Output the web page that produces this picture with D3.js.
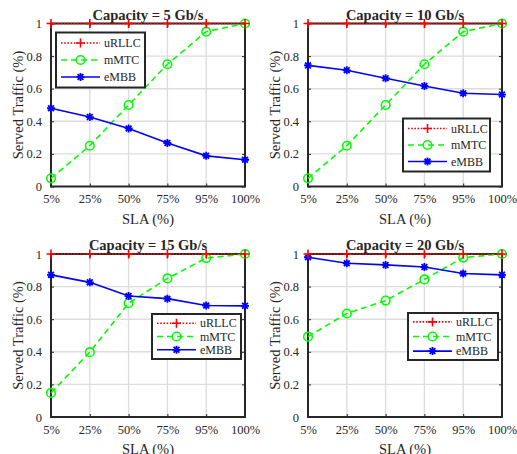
<!DOCTYPE html>
<html>
<head>
<meta charset="utf-8">
<script src="https://cdn.jsdelivr.net/npm/d3@7"></script>
<style>
  body { margin: 0; background: #fff; }
  svg { display: block; }
  text { font-family: "Liberation Serif", "Times New Roman", serif; fill: #262626; }
</style>
</head>
<body>
<div id="chart"></div>
<script>
// categories / ticks
var slaLabels = ["5%", "25%", "50%", "75%", "95%", "100%"];
var yTicks = [0, 0.2, 0.4, 0.6, 0.8, 1];
var capacities = ["5", "10", "15", "20"];
var seriesNames = ["uRLLC", "mMTC", "eMBB"];

// served traffic per capacity
var urllc5  = [1, 1, 1, 1, 1, 1];
var mmtc5   = [0.05, 0.25, 0.50, 0.75, 0.95, 1.00];
var embb5   = [0.48, 0.426, 0.356, 0.267, 0.188, 0.164];

var urllc10 = [1, 1, 1, 1, 1, 1];
var mmtc10  = [0.05, 0.25, 0.50, 0.75, 0.95, 1.00];
var embb10  = [0.743, 0.713, 0.664, 0.617, 0.572, 0.564];

var urllc15 = [1, 1, 1, 1, 1, 1];
var mmtc15  = [0.148, 0.398, 0.698, 0.85, 0.975, 1.00];
var embb15  = [0.872, 0.826, 0.742, 0.726, 0.684, 0.682];

var urllc20 = [1, 1, 1, 1, 1, 1];
var mmtc20  = [0.493, 0.635, 0.714, 0.844, 0.978, 1.00];
var embb20  = [0.98, 0.943, 0.933, 0.92, 0.88, 0.872];

var panelData = [
    [urllc5, mmtc5, embb5],
    [urllc10, mmtc10, embb10],
    [urllc15, mmtc15, embb15],
    [urllc20, mmtc20, embb20]
];

// layout: plot boxes and legend boxes (relative to plot origin)
var W = 517, H = 454;
var pw = 194, ph = 163;
var origins = [[51, 23.5], [308, 23.5], [51, 254], [308, 254]];
var legendBoxes = [
    [5, 9, 89, 55, 17],
    [95, 95, 87, 53, 16.5],
    [101, 60, 89, 45, 13.3],
    [100, 59, 90, 47, 14.6]
];

var styles = [
    { color: "#ff0000", dash: "1.6,1.6", marker: "plus" },
    { color: "#00ff00", dash: "6,4", marker: "circle" },
    { color: "#0000ff", dash: null, marker: "star" }
];

var svg = d3.select("#chart").append("svg")
    .attr("width", W)
    .attr("height", H);

svg.append("rect").attr("width", W).attr("height", H).attr("fill", "#fff");

function drawMarker(g, type, x, y, color) {
    if (type == "plus") {
        g.append("path")
            .attr("d", "M" + (x - 4.5) + "," + y + "H" + (x + 4.5) + "M" + x + "," + (y - 4.5) + "V" + (y + 4.5))
            .attr("stroke", color).attr("stroke-width", 1.6).attr("fill", "none");
    } else if (type == "circle") {
        g.append("circle")
            .attr("cx", x).attr("cy", y).attr("r", 4.3)
            .attr("fill", "none").attr("stroke", color).attr("stroke-width", 1.6);
    } else {
        var r = 4, d = r * 0.72;
        g.append("path")
            .attr("d", "M" + (x - r) + "," + y + "H" + (x + r) + "M" + x + "," + (y - r) + "V" + (y + r) +
                "M" + (x - d) + "," + (y - d) + "L" + (x + d) + "," + (y + d) +
                "M" + (x - d) + "," + (y + d) + "L" + (x + d) + "," + (y - d))
            .attr("stroke", color).attr("stroke-width", 1.8).attr("fill", "none");
    }
}

function buildPanel(i) {
    var o = origins[i];
    var g = svg.append("g").attr("transform", "translate(" + o[0] + "," + o[1] + ")");

    var x = d3.scalePoint().domain(slaLabels).range([0, pw]).padding(0);
    var y = d3.scaleLinear().domain([0, 1]).range([ph, 0]);

    // grid
    g.append("g").selectAll("line.gx")
        .data(slaLabels.slice(1, -1))
        .enter().append("line")
        .attr("x1", function(d) { return x(d); })
        .attr("x2", function(d) { return x(d); })
        .attr("y1", 0).attr("y2", ph)
        .attr("stroke", "#dddddd").attr("stroke-width", 1.4);
    g.append("g").selectAll("line.gy")
        .data(yTicks.slice(1, -1))
        .enter().append("line")
        .attr("x1", 0).attr("x2", pw)
        .attr("y1", function(d) { return y(d); })
        .attr("y2", function(d) { return y(d); })
        .attr("stroke", "#dddddd").attr("stroke-width", 1.4);

    // axes (ticks inward, labels outside)
    var xAxis = d3.axisBottom(x).tickSize(-3).tickPadding(8);
    var yAxis = d3.axisLeft(y).tickValues(yTicks).tickSize(-3).tickPadding(9)
        .tickFormat(function(d) { return d3.format("~g")(d); });

    var gx = g.append("g").attr("transform", "translate(0," + ph + ")").call(xAxis);
    var gy = g.append("g").call(yAxis);
    g.append("g").attr("transform", "translate(0,0)")
        .call(d3.axisTop(x).tickSize(-3).tickFormat(""));
    g.append("g").attr("transform", "translate(" + pw + ",0)")
        .call(d3.axisRight(y).tickValues(yTicks).tickSize(-3).tickFormat(""));

    g.selectAll(".domain").remove();
    g.selectAll(".tick line").attr("stroke", "#262626").attr("stroke-width", 1);
    gx.selectAll("text").attr("font-size", "12.5px").attr("font-family", "Liberation Serif").attr("fill", "#262626");
    gy.selectAll("text").attr("font-size", "12.5px").attr("font-family", "Liberation Serif").attr("fill", "#262626");

    g.append("rect")
        .attr("width", pw).attr("height", ph)
        .attr("fill", "none").attr("stroke", "#262626").attr("stroke-width", 2);

    // labels
    g.append("text")
        .attr("x", pw / 2).attr("y", -4)
        .attr("text-anchor", "middle")
        .attr("font-size", "14.5px").attr("font-weight", "bold")
        .attr("fill", "#000")
        .text("Capacity = " + capacities[i] + " Gb/s");
    g.append("text")
        .attr("x", pw / 2).attr("y", ph + 37)
        .attr("text-anchor", "middle")
        .attr("font-size", "14.5px")
        .text("SLA (%)");
    g.append("text")
        .attr("transform", "translate(-28," + (ph / 2) + ") rotate(-90)")
        .attr("text-anchor", "middle")
        .attr("font-size", "14.5px")
        .text("Served Traffic (%)");

    // series
    var line = d3.line()
        .x(function(d, j) { return x(slaLabels[j]); })
        .y(function(d) { return y(d); });

    var series = panelData[i];
    [1, 2, 0].forEach(function(s) {
        var st = styles[s];
        g.append("path")
            .attr("d", line(series[s]))
            .attr("fill", "none")
            .attr("stroke", st.color)
            .attr("stroke-width", 1.6)
            .attr("stroke-dasharray", st.dash);
        var mg = g.append("g");
        series[s].forEach(function(v, j) {
            drawMarker(mg, st.marker, x(slaLabels[j]), y(v), st.color);
        });
    });

    // legend
    var lb = legendBoxes[i];
    var lg = g.append("g").attr("transform", "translate(" + lb[0] + "," + lb[1] + ")");
    lg.append("rect")
        .attr("width", lb[2]).attr("height", lb[3])
        .attr("fill", "#fff").attr("stroke", "#262626").attr("stroke-width", 2);
    var top = lb[3] / 2 - lb[4];
    seriesNames.forEach(function(name, s) {
        var ry = top + s * lb[4];
        var st = styles[s];
        lg.append("line")
            .attr("x1", 5).attr("x2", 44)
            .attr("y1", ry).attr("y2", ry)
            .attr("stroke", st.color).attr("stroke-width", 1.6)
            .attr("stroke-dasharray", st.dash);
        drawMarker(lg, st.marker, 24.5, ry, st.color);
        lg.append("text")
            .attr("x", 48).attr("y", ry)
            .attr("dy", "0.35em")
            .attr("font-size", "12px")
            .text(name);
    });
}

for (var i = 0; i < 4; i++) {
    buildPanel(i);
}
</script>
</body>
</html>
